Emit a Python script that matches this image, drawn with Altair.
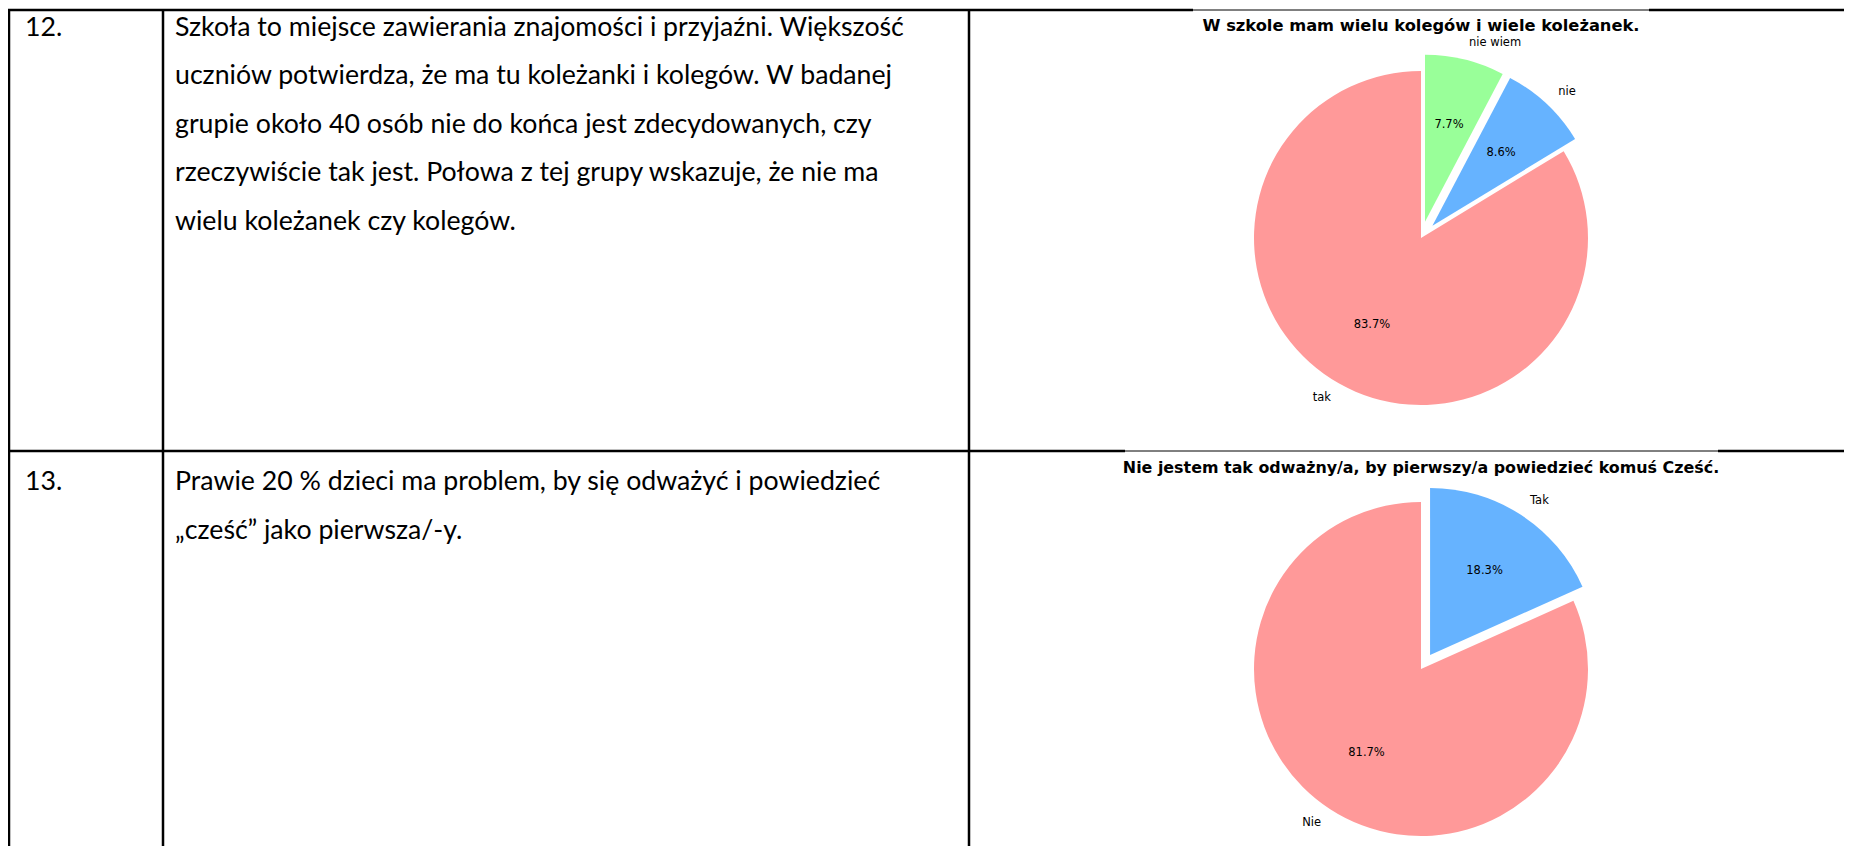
import altair as alt
import pandas as pd

# ---------------- data ----------------
row_numbers = ["12.", "13."]
row1_lines = [
    "Szkoła to miejsce zawierania znajomości i przyjaźni. Większość",
    "uczniów potwierdza, że ma tu koleżanki i kolegów. W badanej",
    "grupie około 40 osób nie do końca jest zdecydowanych, czy",
    "rzeczywiście tak jest. Połowa z tej grupy wskazuje, że nie ma",
    "wielu koleżanek czy kolegów.",
]
row2_lines = [
    "Prawie 20 % dzieci ma problem, by się odważyć i powiedzieć",
    "„cześć” jako pierwsza/-y.",
]

pie1_title = "W szkole mam wielu kolegów i wiele koleżanek."
pie1_labels = ["tak", "nie", "nie wiem"]
pie1_values = [83.7, 8.6, 7.7]
pie1_explode = [0.0, 0.1, 0.1]

pie2_title = "Nie jestem tak odważny/a, by pierwszy/a powiedzieć komuś Cześć."
pie2_labels = ["Nie", "Tak"]
pie2_values = [81.7, 18.3]
pie2_explode = [0.0, 0.1]

color_domain = ["tak", "nie", "nie wiem", "Nie", "Tak"]
color_range = ["#ff9999", "#66b3ff", "#99ff99", "#ff9999", "#66b3ff"]

# ---------------- layout (page pixel coordinates) ----------------
M = 8
W, H = 1836, 838
XS = alt.Scale(domain=[M, M + W], range=[0, W], nice=False, zero=False)
YS = alt.Scale(domain=[M, M + H], range=[0, H], nice=False, zero=False)

TEXT_FONT = "Lato"
TEXT_SIZE = 26.7
LINE_H = 48.5
NUM_X = 25
TEXT_X = 175
ROW_BASE = [35.5, 490]

PIE_R = 167
PIE_FONT = "DejaVu Sans"
TITLE_SIZES = [16.3, 15.9]

THICK, THIN = 2.5, 1.0
seg_x = [M, 1193, 1649, M, 1125, 1718, 9, 163, 969]
seg_x2 = [1193, 1649, 1900, 1125, 1718, 1900, 9, 163, 969]
seg_y = [10, 10, 10, 451, 451, 451, 9, 9, 9]
seg_y2 = [10, 10, 10, 451, 451, 451, 900, 900, 900]
seg_w = [THICK, THIN, THICK, THICK, THIN, THICK, THICK, THICK, THICK]

lines_df = pd.DataFrame({"x": seg_x, "x2": seg_x2, "y": seg_y, "y2": seg_y2, "w": seg_w})
grid = alt.Chart(lines_df).mark_rule(color="black").encode(
    x=alt.X("x:Q", scale=XS, axis=None),
    x2="x2:Q",
    y=alt.Y("y:Q", scale=YS, axis=None),
    y2="y2:Q",
    strokeWidth=alt.StrokeWidth("w:Q", scale=None),
)

# table text
recs = []
for r, lines in enumerate([row1_lines, row2_lines]):
    recs.append({"row": r, "i": 0, "text": row_numbers[r], "col": 0})
    for i, t in enumerate(lines):
        recs.append({"row": r, "i": i, "text": t, "col": 1})
text_df = pd.DataFrame(recs)
table_text = alt.Chart(text_df).transform_calculate(
    tx=f"datum.col == 0 ? {NUM_X} : {TEXT_X}",
    ty=f"(datum.row == 0 ? {ROW_BASE[0]} : {ROW_BASE[1]}) + datum.i * {LINE_H}",
).mark_text(
    font=TEXT_FONT, fontSize=TEXT_SIZE, align="left", baseline="alphabetic", color="black"
).encode(
    x=alt.X("tx:Q", scale=XS, axis=None),
    y=alt.Y("ty:Q", scale=YS, axis=None),
    text="text:N",
)


def pie_layers(labels, values, explode, cx, cy, title, ty, title_size):
    R = PIE_R
    df = pd.DataFrame({"label": labels, "value": values, "explode": explode,
                       "order": list(range(len(labels)))})
    base = (
        alt.Chart(df)
        .transform_joinaggregate(total="sum(value)")
        .transform_window(cum="sum(value)", sort=[alt.SortField("order")], frame=[None, 0])
        .transform_calculate(t0="2*PI*(1 - datum.cum/datum.total)")
        .transform_calculate(t1="2*PI*(1 - (datum.cum - datum.value)/datum.total)")
        .transform_calculate(mid="(datum.t0 + datum.t1)/2")
        .transform_calculate(ox=f"{cx} + datum.explode*{R}*sin(datum.mid)")
        .transform_calculate(oy=f"{cy} - datum.explode*{R}*cos(datum.mid)")
        .transform_calculate(lx=f"datum.ox + 1.1*{R}*sin(datum.mid)")
        .transform_calculate(ly=f"datum.oy - 1.1*{R}*cos(datum.mid)")
        .transform_calculate(px=f"datum.ox + 0.6*{R}*sin(datum.mid)")
        .transform_calculate(py=f"datum.oy - 0.6*{R}*cos(datum.mid)")
        .transform_calculate(pct="format(100*datum.value/datum.total, '.1f') + '%'")
        .transform_calculate(right="sin(datum.mid) >= 0 ? 1 : 0")
    )
    arcs = base.mark_arc(outerRadius=R, innerRadius=0).encode(
        x=alt.X("ox:Q", scale=XS, axis=None),
        y=alt.Y("oy:Q", scale=YS, axis=None),
        theta=alt.Theta("t0:Q", scale=None, stack=False),
        theta2="t1:Q",
        color=alt.Color("label:N", scale=alt.Scale(domain=color_domain, range=color_range), legend=None),
    )
    pct = base.mark_text(font=PIE_FONT, fontSize=11.5, align="center", baseline="middle", color="black").encode(
        x=alt.X("px:Q", scale=XS, axis=None),
        y=alt.Y("py:Q", scale=YS, axis=None),
        text="pct:N",
    )
    lab_r = base.transform_filter("datum.right == 1").mark_text(
        font=PIE_FONT, fontSize=11.5, align="left", baseline="middle", color="black"
    ).encode(
        x=alt.X("lx:Q", scale=XS, axis=None),
        y=alt.Y("ly:Q", scale=YS, axis=None),
        text="label:N",
    )
    lab_l = base.transform_filter("datum.right == 0").mark_text(
        font=PIE_FONT, fontSize=11.5, align="right", baseline="middle", color="black"
    ).encode(
        x=alt.X("lx:Q", scale=XS, axis=None),
        y=alt.Y("ly:Q", scale=YS, axis=None),
        text="label:N",
    )
    tdf = pd.DataFrame({"t": [title]})
    ttl = alt.Chart(tdf).mark_text(
        font=PIE_FONT, fontSize=title_size, fontWeight="bold", align="center", baseline="middle", color="black"
    ).encode(
        x=alt.X(datum=cx, scale=XS, axis=None),
        y=alt.Y(datum=ty, scale=YS, axis=None),
        text="t:N",
    )
    return [arcs, pct, lab_r, lab_l, ttl]


layers = [grid, table_text]
layers += pie_layers(pie1_labels, pie1_values, pie1_explode, 1421, 238, pie1_title, 26, TITLE_SIZES[0])
layers += pie_layers(pie2_labels, pie2_values, pie2_explode, 1421, 669, pie2_title, 468, TITLE_SIZES[1])

chart = alt.layer(*layers).properties(
    width=W, height=H, padding=0,
    autosize=alt.AutoSizeParams(type="none"),
).configure_view(strokeWidth=0)

chart.save("out.html", embed_options={"renderer": "svg", "actions": False})
